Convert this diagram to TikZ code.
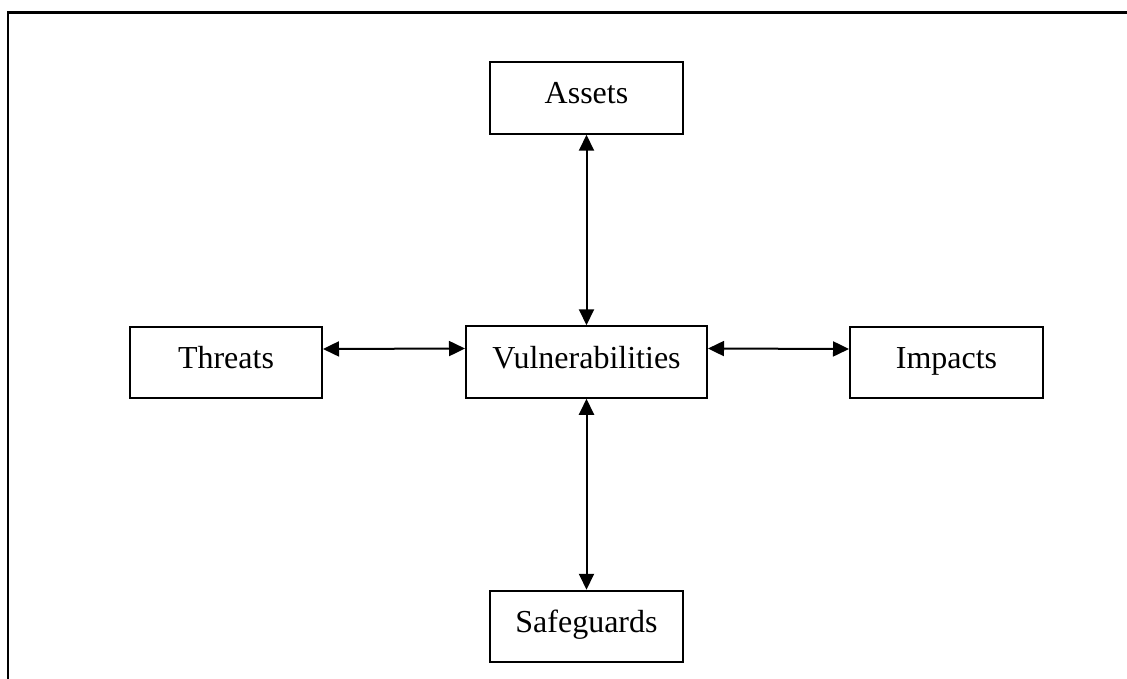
\documentclass[tikz,border=0pt]{standalone}
\usepackage{fontspec}
\setmainfont{Liberation Serif}
\usetikzlibrary{arrows.meta}
\begin{document}
\begin{tikzpicture}[x=1pt,y=-1pt,
  box/.style={draw, line width=2pt, inner sep=0pt, minimum height=71.5pt,
    text height=21pt, text depth=9pt,
    font=\fontsize{32}{36}\selectfont},
  link/.style={line width=2pt, {Triangle[length=16pt,width=15pt]}-{Triangle[length=16pt,width=15pt]}}]
  \useasboundingbox (0,0) rectangle (1127,679);
  % frame (top and left edges)
  \draw[line width=2.4pt] (8,680) -- (8,12.5) -- (1128,12.5);
  % boxes
  \node[box, minimum width=193pt] (assets) at (586.5,98) {Assets};
  \node[box, minimum width=192pt] (threats) at (226,362.5) {Threats};
  \node[box, minimum width=241pt] (vul) at (586.5,362) {Vulnerabilities};
  \node[box, minimum width=193pt] (impacts) at (946.5,362.5) {Impacts};
  \node[box, minimum width=193pt] (safe) at (586.5,626.5) {Safeguards};
  % links
  \draw[link] (assets.south) -- (vul.north);
  \draw[link] (vul.south) -- (safe.north);
  \draw[link] ([yshift=13.5pt]threats.east) -- ([yshift=13.5pt]vul.west);
  \draw[link] ([yshift=13.5pt]vul.east) -- ([yshift=13.5pt]impacts.west);
\end{tikzpicture}
\end{document}
